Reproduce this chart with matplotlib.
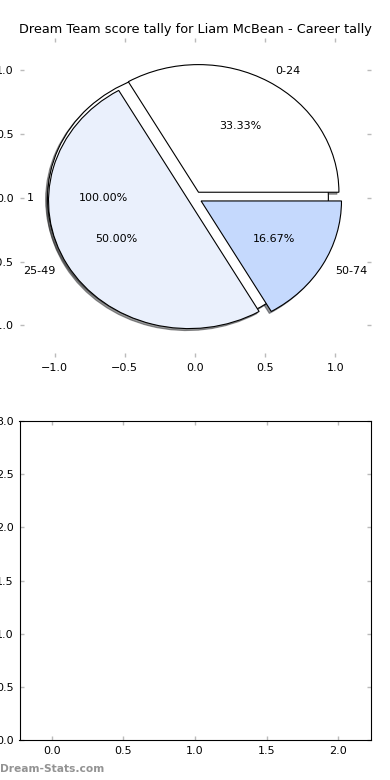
import matplotlib
matplotlib.use('Agg')
import matplotlib.pyplot as plt

# score brackets and how many games fell into each
labels = ['0-24', '25-49', '50-74']
counts = [2, 3, 1]
colours = ['#FFFFFF', '#EAF0FC', '#C5D9FD']
explode = [0.05, 0.05, 0.05]

# backdrop pie (one wedge)
base_labels = ['1']
base_counts = [1]
base_explode = [0.05]

title = 'Dream Team score tally for Liam McBean - Career tally'

plt.rcParams['font.family'] = 'DejaVu Sans'
plt.rcParams['font.size'] = 8

fig = plt.figure(figsize=(3.9, 7.8), dpi=100)
fig.subplots_adjust(left=0.05, right=0.95, bottom=0.051, top=0.951, hspace=0.2)

shadow = {'ox': -0.01, 'oy': -0.011, 'shade': 0.8}
edge = {'linewidth': 0.8, 'edgecolor': 'black'}

ax1 = fig.add_subplot(2, 1, 1)
ax1.pie(base_counts, labels=base_labels, colors=['#FFFFFF'], explode=base_explode,
        autopct='%1.2f%%', shadow=shadow, startangle=0, wedgeprops=edge, frame=True)
ax1.pie(counts, labels=labels, colors=colours, explode=explode, autopct='%1.2f%%',
        shadow=shadow, startangle=0, wedgeprops=edge, frame=True)
ax1.set_aspect('auto')
ax1.set_xlim(-1.25, 1.25)
ax1.set_ylim(-1.25, 1.25)
ax1.set_xticks([-1.0, -0.5, 0.0, 0.5, 1.0])
ax1.set_yticks([-1.0, -0.5, 0.0, 0.5, 1.0])
for s in ax1.spines.values():
    s.set_visible(False)
ax1.set_title(title, fontsize=9.3, pad=4)

ax2 = fig.add_subplot(2, 1, 2)
ax2.set_xlim(-0.225, 2.225)
ax2.set_ylim(0, 3)
ax2.set_xticks([0.0, 0.5, 1.0, 1.5, 2.0])
ax2.set_yticks([0.0, 0.5, 1.0, 1.5, 2.0, 2.5, 3.0])

for ax in (ax1, ax2):
    ax.tick_params(direction='in', color='#BBBBBB', length=3, width=1,
                   top=True, right=True, labelsize=8, pad=4)

fig.text(0.0, 0.008, 'Dream-Stats.com', color='#939393', fontsize=7.7,
         fontweight='bold', ha='left', va='bottom')

fig.savefig('out.png', dpi=100)
